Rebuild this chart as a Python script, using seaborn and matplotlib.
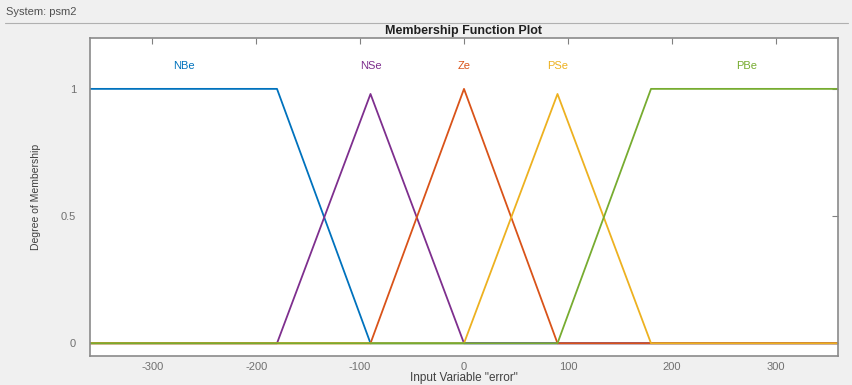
import matplotlib
matplotlib.use("Agg")
import matplotlib.pyplot as plt
import seaborn as sns
import pandas as pd

# Membership functions of the input variable "error" (vertices of each curve)
mf_names = ["NBe", "NSe", "Ze", "PSe", "PBe"]
nbe_x = [-360, -180, -90, 360]
nbe_y = [1, 1, 0, 0]
nse_x = [-360, -180, -90, 0, 360]
nse_y = [0, 0, 0.98, 0, 0]
ze_x = [-360, -90, 0, 90, 360]
ze_y = [0, 0, 1, 0, 0]
pse_x = [-360, 0, 90, 180, 360]
pse_y = [0, 0, 0.98, 0, 0]
pbe_x = [-360, 90, 180, 360]
pbe_y = [0, 0, 1, 1]
label_x = [-270, -90, 0, 90, 272]
label_y = 1.09

colors = ["#0072BD", "#7E2F8E", "#D95319", "#EDB120", "#77AC30"]
xticks = [-300, -200, -100, 0, 100, 200, 300]
yticks = [0, 0.5, 1]
ytick_labels = ["0", "0.5", "1"]

curves = [(nbe_x, nbe_y), (nse_x, nse_y), (ze_x, ze_y), (pse_x, pse_y), (pbe_x, pbe_y)]
frames = []
for name, (xs, ys) in zip(mf_names, curves):
    frames.append(pd.DataFrame({"x": xs, "y": ys, "mf": name}))
df = pd.concat(frames, ignore_index=True)

sns.set_style("white")
plt.rcParams["font.family"] = ["Liberation Sans", "DejaVu Sans"]
plt.rcParams["axes.unicode_minus"] = False

fig = plt.figure(figsize=(8.53, 3.85), dpi=100)
fig.patch.set_facecolor("#f0f0f0")
W, H = 853, 385
ax = fig.add_axes([90 / W, (H - 356) / H, (838 - 90) / W, (356 - 38) / H])
ax.set_facecolor("white")

sns.lineplot(data=df, x="x", y="y", hue="mf", hue_order=mf_names,
             palette=colors, sort=False, estimator=None, units="mf",
             legend=False, linewidth=1.3, ax=ax)

for name, lx, c in zip(mf_names, label_x, colors):
    ax.text(lx, label_y, name, color=c, ha="center", va="center", fontsize=8)

ax.set_xlim(-360, 360)
ax.set_ylim(-0.05, 1.2)
ax.set_xticks(xticks)
ax.set_yticks(yticks)
ax.set_yticklabels(ytick_labels)
ax.tick_params(axis="both", direction="in", length=4, width=0.8, colors="#808080",
               labelcolor="#707070", labelsize=8, top=True, right=True)
ax.tick_params(axis="y", pad=10)
ax.tick_params(axis="x", pad=4)
for s in ax.spines.values():
    s.set_color("#8a8a8a")
    s.set_linewidth(1.2)

ax.set_xlabel('Input Variable "error"', fontsize=8.5, color="#404040", labelpad=0)
ax.set_ylabel("Degree of Membership", fontsize=7.5, color="#404040", labelpad=14)
ax.set_title("Membership Function Plot", fontsize=9, fontweight="bold", color="#202020", pad=3)

fig.text(6 / W, 1 - 12 / H, "System: psm2", fontsize=8, color="#505050", va="center", ha="left")
fig.add_artist(plt.Line2D([5 / W, 848 / W], [1 - 23 / H, 1 - 23 / H], color="#b0b0b0", linewidth=0.8))

fig.savefig("out.png", dpi=100, facecolor=fig.get_facecolor())
